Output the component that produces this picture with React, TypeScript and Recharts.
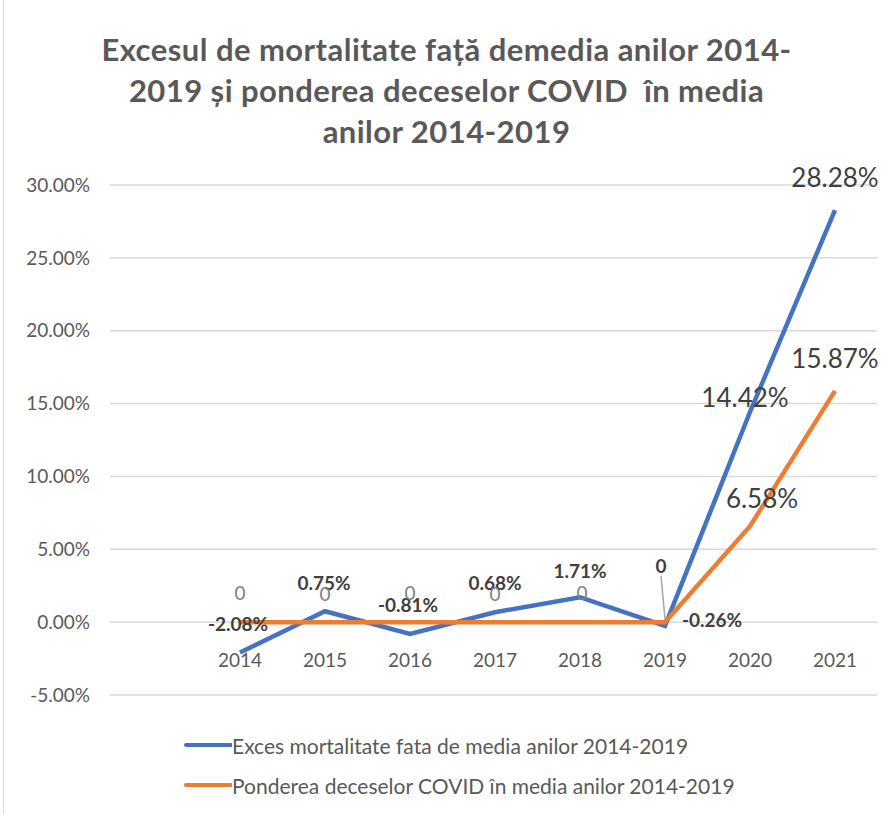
import React from 'react';
import { LineChart, Line, XAxis, YAxis, CartesianGrid, LabelList } from 'recharts';

const years = ['2014', '2015', '2016', '2017', '2018', '2019', '2020', '2021'];
const excessValues = [-2.08, 0.75, -0.81, 0.68, 1.71, -0.26, 14.42, 28.28];
const covidValues = [0, 0, 0, 0, 0, 0, 6.58, 15.87];
const yTicks = [-5, 0, 5, 10, 15, 20, 25, 30];

const excessName = 'Exces mortalitate fata de media anilor 2014-2019';
const covidName = 'Ponderea deceselor COVID în media anilor 2014-2019';

const data = years.map((year, i) => ({ year, excess: excessValues[i], covid: covidValues[i] }));

const BLUE = '#4472C4';
const ORANGE = '#ED7D31';
const FONT = 'Lato, sans-serif';

// label placement, relative to the point (label centre)
const excessLabelPos = [
  { dx: -2, dy: -29 },
  { dx: -1, dy: -29 },
  { dx: -2, dy: -29 },
  { dx: 0, dy: -30 },
  { dx: 0, dy: -27 },
  { dx: 47, dy: -6 },
  { dx: -5, dy: -15, big: true },
  { dx: 0, dy: -33, big: true },
];
const covidLabelPos = [
  { dx: 0, dy: -30 },
  { dx: 0, dy: -29 },
  { dx: 0, dy: -30 },
  { dx: 0, dy: -29 },
  { dx: 2, dy: -30 },
  { dx: -4, dy: -57, leader: true },
  { dx: 12, dy: -28, big: true },
  { dx: 0, dy: -33, big: true },
];

const pct = (v: number) => `${v.toFixed(2)}%`;

const ExcessLabel = (props: any) => {
  const { x, y, index, value } = props;
  const p = excessLabelPos[index] || { dx: 0, dy: -25 };
  return (
    <text
      x={x + p.dx}
      y={y + p.dy}
      textAnchor="middle"
      dominantBaseline="central"
      fontFamily={FONT}
      fontSize={p.big ? 26 : 19}
      fontWeight={p.big ? 400 : 700}
      fill="#404040"
    >
      {pct(value)}
    </text>
  );
};

const CovidLabel = (props: any) => {
  const { x, y, index, value } = props;
  const p = covidLabelPos[index] || { dx: 0, dy: -25 };
  const zero = value === 0;
  return (
    <g>
      {p.leader && <line x1={x - 4} y1={y - 46} x2={x} y2={y - 3} stroke="#a6a6a6" strokeWidth={1.5} />}
      <text
        x={x + p.dx}
        y={y + p.dy}
        textAnchor="middle"
        dominantBaseline="central"
        fontFamily={FONT}
        fontSize={p.big ? 26 : 19}
        fontWeight={p.leader ? 700 : 400}
        fill={p.leader || p.big ? '#404040' : '#7f7f7f'}
      >
        {zero ? '0' : pct(value)}
      </text>
    </g>
  );
};

const YearTick = (props: any) => {
  const { x, y, payload } = props;
  return (
    <text x={x} y={y - 36} textAnchor="middle" fontFamily={FONT} fontSize={19} fill="#595959">
      {payload.value}
    </text>
  );
};

const legendItems = [
  { name: excessName, color: BLUE },
  { name: covidName, color: ORANGE },
];

export default function App() {
  return (
    <div style={{ position: 'absolute', left: 0, top: 0, width: 893, height: 814, background: '#fff' }}>
      <div style={{ position: 'absolute', left: 3, top: 0, width: 1, height: 814, background: '#d9d9d9' }} />
      <div
        style={{
          position: 'absolute',
          top: 29,
          left: 0,
          width: 893,
          textAlign: 'center',
          fontFamily: FONT,
          fontWeight: 700,
          fontSize: 31,
          letterSpacing: 0.45,
          lineHeight: '41px',
          color: '#595959',
          whiteSpace: 'pre',
        }}
      >
        {'Excesul de mortalitate față demedia anilor 2014-\n2019 și ponderea deceselor COVID  în media\nanilor 2014-2019'}
      </div>
      <LineChart width={893} height={814} data={data} margin={{ top: 185, right: 16, left: 10, bottom: 89 }}>
        <CartesianGrid vertical={false} stroke="#d9d9d9" strokeWidth={1.5} />
        <XAxis
          dataKey="year"
          axisLine={false}
          tickLine={false}
          height={30}
          padding={{ left: 130, right: 42 }}
          tick={<YearTick />}
          interval={0}
        />
        <YAxis
          domain={[-5, 30]}
          ticks={yTicks}
          width={100}
          axisLine={false}
          tickLine={false}
          tickSize={0}
          tickMargin={20}
          tickFormatter={pct}
          tick={{ fontFamily: FONT, fontSize: 19, fill: '#595959' }}
        />
        <Line
          type="linear"
          dataKey="excess"
          name={excessName}
          stroke={BLUE}
          strokeWidth={4.5}
          dot={false}
          isAnimationActive={false}
        >
          <LabelList dataKey="excess" content={<ExcessLabel />} />
        </Line>
        <Line
          type="linear"
          dataKey="covid"
          name={covidName}
          stroke={ORANGE}
          strokeWidth={4.5}
          dot={false}
          isAnimationActive={false}
        >
          <LabelList dataKey="covid" content={<CovidLabel />} />
        </Line>
      </LineChart>
      <div
        style={{
          position: 'absolute',
          top: 725,
          left: 184,
          fontFamily: FONT,
          fontSize: 21,
          color: '#595959',
        }}
      >
        {legendItems.map((item) => (
          <div key={item.name} style={{ display: 'flex', alignItems: 'center', height: 40 }}>
            <svg width={48} height={10}>
              <line x1={2} y1={5} x2={47} y2={5} stroke={item.color} strokeWidth={4} strokeLinecap="round" />
            </svg>
            <span>{item.name}</span>
          </div>
        ))}
      </div>
    </div>
  );
}
